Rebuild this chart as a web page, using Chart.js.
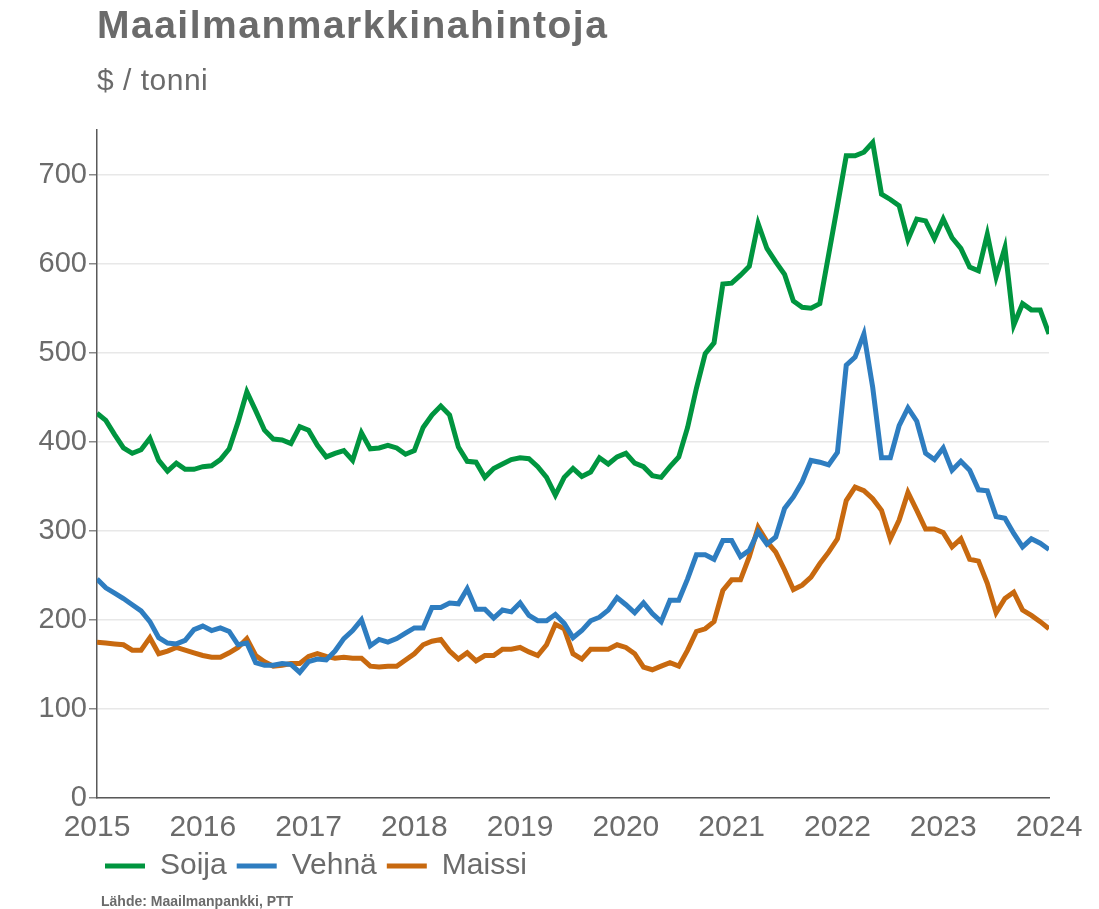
<!DOCTYPE html>
<html>
<head>
<meta charset="utf-8">
<script src="https://cdn.jsdelivr.net/npm/chart.js@4"></script>
<style>
  body { margin: 0; background: #fff; }
  #wrap { position: relative; width: 1099px; height: 909px; font-family: "Liberation Sans", Arial, sans-serif; }
  #title { position: absolute; left: 97px; top: 3px; font-size: 39px; letter-spacing: 1.5px; font-weight: bold; color: #6b6b6b; }
  #subtitle { position: absolute; left: 97px; top: 63px; font-size: 30px; letter-spacing: 0.5px; color: #6b6b6b; }
  #source { position: absolute; left: 101px; top: 893px; font-size: 14px; font-weight: bold; color: #6b6b6b; }
  #chartBox { position: absolute; left: 0; top: 0; width: 1099px; height: 909px; }
</style>
</head>
<body>
<div id="wrap">
  <div id="chartBox"><canvas id="hinnat"></canvas></div>
  <div id="title">Maailmanmarkkinahintoja</div>
  <div id="subtitle">$ / tonni</div>
  <div id="source">Lähde: Maailmanpankki, PTT</div>
</div>
<script>
// kuukausittain 2015-01 ... 2024-01
const startYear = 2015;
const yearTicks = [2015, 2016, 2017, 2018, 2019, 2020, 2021, 2022, 2023, 2024];
const seriesNames = ['Soija', 'Vehnä', 'Maissi'];

const soija = [
  432, 424, 408, 393, 387, 391, 404, 379, 367, 376, 369, 369,
  372, 373, 380, 392, 422, 456, 435, 413, 403, 402, 398, 417,
  413, 396, 383, 387, 390, 379, 410, 392, 393, 396, 393, 386,
  390, 416, 430, 440, 430, 394, 378, 377, 360, 370, 375, 380,
  382, 381, 372, 360, 340, 360, 370, 361, 366, 382, 375, 383,
  387, 376, 372, 362, 360, 372, 383, 416, 460, 499, 511, 577,
  578, 587, 597, 645, 617, 602, 588, 558, 551, 550, 555, 610,
  665, 721, 721, 725, 736, 678, 672, 665, 627, 650, 648, 628,
  650, 629, 617, 596, 592, 633, 585, 618, 531, 555, 548, 548,
  521
];
const vehna = [
  246, 236, 230, 224, 217, 210, 198, 180, 174, 173, 177, 189,
  193, 188, 191, 187, 172, 174, 152, 149, 149, 151, 150, 141,
  153, 156, 155, 165, 179, 188, 200, 171, 178, 175, 179, 185,
  191, 191, 214, 214, 219, 218, 235, 212, 212, 202, 211, 209,
  219, 205, 199, 199, 206, 196, 180, 188, 199, 203, 211, 225,
  217, 208, 219, 207, 198, 222, 222, 246, 273, 273, 268, 289,
  289, 271, 278, 299, 285, 293, 325, 338, 355, 379, 377, 374,
  388, 486, 495, 521, 461, 382, 382, 418, 438, 423, 387, 380,
  393, 368, 378, 368, 346, 345, 316, 314, 297, 282, 291, 286,
  279
];
const maissi = [
  175, 174, 173, 172, 166, 166, 180, 162, 165, 169, 166, 163,
  160, 158, 158, 163, 169, 179, 160, 153, 148, 149, 151, 151,
  159, 162, 159, 157, 158, 157, 157, 148, 147, 148, 148, 155,
  162, 172, 176, 178, 165, 156, 163, 154, 160, 160, 167, 167,
  169, 164, 160, 172, 195, 190, 162, 156, 167, 167, 167, 172,
  169, 162, 147, 144, 148, 152, 148, 166, 187, 190, 198, 233,
  245, 245, 271, 304, 288, 276, 256, 234, 239, 248, 263, 276,
  291, 334, 349, 345, 336, 323, 291, 312, 343, 323, 302, 302,
  298, 282, 291, 268, 266, 241, 208, 224, 231, 211, 205, 198,
  190
];

const colors = ['#00953f', '#2e7dc0', '#c8690f'];
const grey = '#6b6b6b';
const fontFam = '"Liberation Sans", Arial, sans-serif';

function toPoints(values) {
  return values.map((v, i) => ({ x: i, y: v }));
}

// siirretään selite akselin kohdalle
const legendShift = {
  id: 'legendShift',
  afterLayout(chart) {
    chart.legend.left += 95;
    chart.legend.right += 95;
  }
};

const ctx = document.getElementById('hinnat').getContext('2d');
const chart = new Chart(ctx, {
  type: 'line',
  data: {
    datasets: [soija, vehna, maissi].map((vals, k) => ({
      label: seriesNames[k],
      data: toPoints(vals),
      borderColor: colors[k],
      backgroundColor: colors[k],
      borderWidth: 5,
      pointRadius: 0,
      tension: 0,
      fill: false
    }))
  },
  options: {
    responsive: true,
    maintainAspectRatio: false,
    animation: false,
    layout: { padding: { top: 130, right: 50, left: 0, bottom: 18 } },
    plugins: {
      tooltip: { enabled: false },
      legend: {
        position: 'bottom',
        align: 'start',
        labels: {
          color: grey,
          font: { family: fontFam, size: 30 },
          boxWidth: 40,
          boxHeight: 5,
          padding: 10,
          generateLabels: (c) => Chart.defaults.plugins.legend.labels.generateLabels(c)
            .map(l => Object.assign(l, { lineWidth: 0 }))
        }
      }
    },
    scales: {
      x: {
        type: 'linear',
        min: 0,
        max: (yearTicks[yearTicks.length - 1] - startYear) * 12,
        afterBuildTicks: (scale) => {
          scale.ticks = yearTicks.map(y => ({ value: (y - startYear) * 12 }));
        },
        afterFit: (scale) => { scale.height = 43; },
        ticks: {
          color: grey,
          font: { family: fontFam, size: 30 },
          padding: 12,
          maxRotation: 0,
          autoSkip: false,
          callback: (v) => String(startYear + v / 12)
        },
        grid: { display: false, drawTicks: false },
        border: { display: true, color: '#595959', width: 1.5 }
      },
      y: {
        min: 0,
        max: 750,
        afterBuildTicks: (scale) => {
          scale.ticks = scale.ticks.filter(t => t.value % 100 === 0);
        },
        afterFit: (scale) => { scale.width = 97; },
        ticks: {
          stepSize: 100,
          color: grey,
          font: { family: fontFam, size: 29 },
          padding: 2
        },
        grid: {
          color: '#e8e8e8',
          lineWidth: 1.5,
          tickColor: '#8a8a8a',
          tickLength: 8
        },
        border: { display: true, color: '#595959', width: 1.5 }
      }
    }
  },
  plugins: [legendShift]
});
</script>
</body>
</html>
